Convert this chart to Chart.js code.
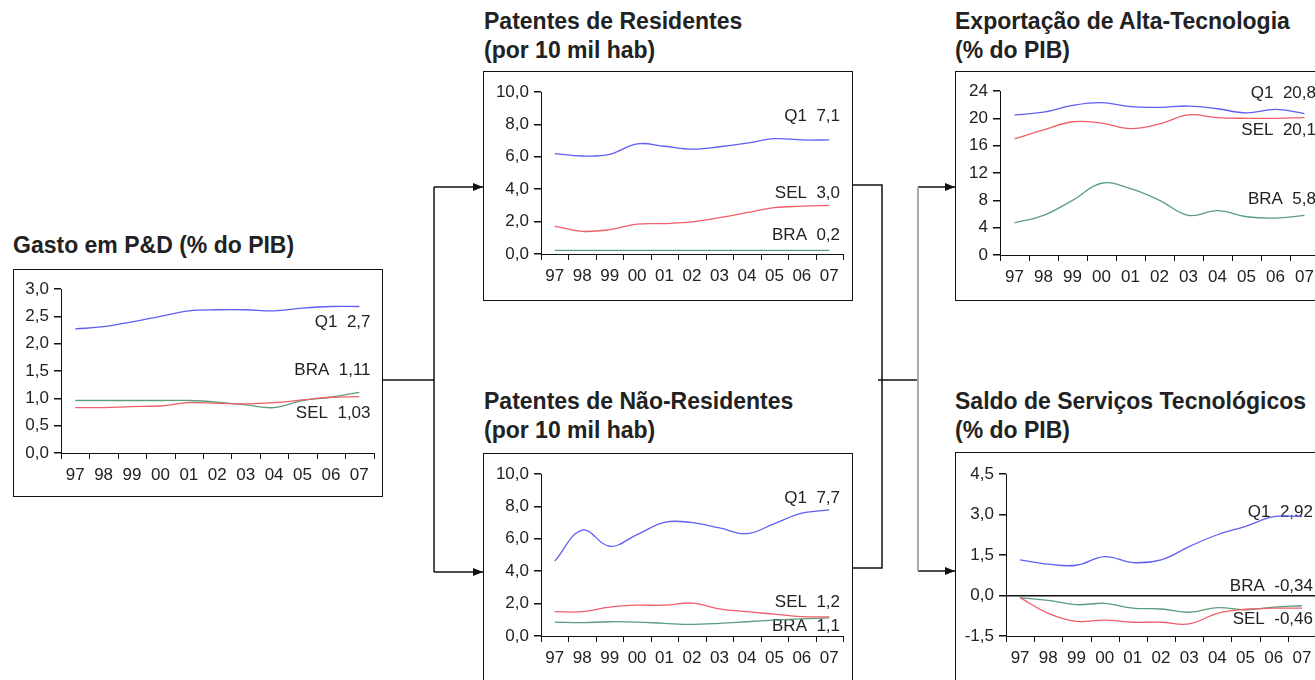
<!DOCTYPE html>
<html lang="pt-br">

<head>
    <meta charset="UTF-8">
    <title>Indicadores de Inovação</title>
    <script src="https://cdn.jsdelivr.net/npm/chart.js"></script>
    <style>
        body {
            margin: 0;
            width: 1315px;
            height: 680px;
            overflow: hidden;
            position: relative;
            background: #fff;
            font-family: "Liberation Sans", Arial, sans-serif;
        }

        .titulo {
            position: absolute;
            font-weight: bold;
            font-size: 23px;
            line-height: 29px;
            color: #222;
            white-space: nowrap;
        }

        .caixa {
            position: absolute;
            border: 1.5px solid #111;
            box-sizing: border-box;
        }

        canvas {
            position: absolute;
        }

        #conectores {
            position: absolute;
            left: 0;
            top: 0;
        }
    </style>
</head>

<body>

    <div class="titulo" style="left: 13px; top: 231px;">Gasto em P&amp;D (% do PIB)</div>
    <div class="titulo" style="left: 484px; top: 7px;">Patentes de Residentes<br>(por 10 mil hab)</div>
    <div class="titulo" style="left: 484px; top: 387px;">Patentes de Não-Residentes<br>(por 10 mil hab)</div>
    <div class="titulo" style="left: 955px; top: 7px;">Exportação de Alta-Tecnologia<br>(% do PIB)</div>
    <div class="titulo" style="left: 955px; top: 387px;">Saldo de Serviços Tecnológicos<br>(% do PIB)</div>

    <svg id="conectores" width="1315" height="680">
        <defs>
            <marker id="seta" markerWidth="10" markerHeight="8" refX="10" refY="4" orient="auto"
                markerUnits="userSpaceOnUse">
                <path d="M0,0 L10,4 L0,8 Z" fill="#111" />
            </marker>
        </defs>
        <g stroke="#111" stroke-width="1.5" fill="none">
            <line x1="383" y1="380" x2="434" y2="380" />
            <line x1="434" y1="187" x2="434" y2="572" />
            <line x1="434" y1="187" x2="483" y2="187" marker-end="url(#seta)" />
            <line x1="434" y1="572" x2="483" y2="572" marker-end="url(#seta)" />
            <polyline points="853,185 882,185 882,568 853,568" />
            <line x1="878" y1="380" x2="918" y2="380" />
            <line x1="918" y1="187" x2="955" y2="187" marker-end="url(#seta)" />
            <line x1="918" y1="571" x2="955" y2="571" marker-end="url(#seta)" />
        </g>
        <line x1="918" y1="187" x2="918" y2="571" stroke="#aaa" stroke-width="2" />
    </svg>

</body>

<script>
    // anos no eixo x
    const anos = ['97', '98', '99', '00', '01', '02', '03', '04', '05', '06', '07'];

    // Gasto em P&D (% do PIB)
    const gastoQ1 = [2.27, 2.31, 2.40, 2.50, 2.60, 2.62, 2.62, 2.60, 2.65, 2.68, 2.68];
    const gastoSEL = [0.83, 0.83, 0.85, 0.86, 0.92, 0.91, 0.90, 0.92, 0.97, 1.02, 1.03];
    const gastoBRA = [0.96, 0.96, 0.96, 0.96, 0.96, 0.93, 0.88, 0.83, 0.96, 1.02, 1.11];

    // Patentes de residentes (por 10 mil hab)
    const residQ1 = [6.2, 6.05, 6.15, 6.8, 6.65, 6.47, 6.62, 6.84, 7.12, 7.04, 7.04];
    const residSEL = [1.72, 1.4, 1.5, 1.84, 1.88, 1.98, 2.24, 2.55, 2.86, 2.95, 3.0];
    const residBRA = [0.22, 0.22, 0.22, 0.22, 0.22, 0.22, 0.22, 0.22, 0.22, 0.22, 0.22];

    // Patentes de não-residentes (por 10 mil hab)
    const naoResidQ1 = [4.62, 6.53, 5.54, 6.26, 7.02, 7.0, 6.67, 6.32, 6.94, 7.58, 7.78];
    const naoResidSEL = [1.5, 1.5, 1.78, 1.9, 1.9, 2.03, 1.68, 1.5, 1.35, 1.2, 1.18];
    const naoResidBRA = [0.86, 0.82, 0.88, 0.86, 0.78, 0.72, 0.78, 0.88, 0.98, 1.06, 1.12];

    // Exportação de alta tecnologia (% do PIB)
    const exportQ1 = [20.5, 20.9, 21.9, 22.3, 21.7, 21.6, 21.8, 21.4, 20.8, 21.3, 20.7];
    const exportSEL = [17.0, 18.3, 19.5, 19.3, 18.5, 19.2, 20.5, 20.1, 20.0, 20.0, 20.1];
    const exportBRA = [4.7, 5.8, 8.0, 10.5, 9.7, 8.0, 5.8, 6.5, 5.6, 5.4, 5.8];

    // Saldo de serviços tecnológicos (% do PIB)
    const saldoQ1 = [1.32, 1.16, 1.12, 1.44, 1.22, 1.32, 1.81, 2.25, 2.56, 2.92, 2.92];
    const saldoSEL = [-0.08, -0.66, -0.96, -0.91, -0.99, -0.99, -1.05, -0.66, -0.51, -0.47, -0.47];
    const saldoBRA = [-0.08, -0.18, -0.34, -0.29, -0.47, -0.5, -0.62, -0.45, -0.53, -0.43, -0.38];

    // textos do fim das linhas e altura (em valor do eixo y) onde ficam
    const rotulosGasto = ['Q1  2,7', 'BRA  1,11', 'SEL  1,03'];
    const alturaRotulosGasto = [2.39, 1.51, 0.72];
    const rotulosResid = ['Q1  7,1', 'SEL  3,0', 'BRA  0,2'];
    const alturaRotulosResid = [8.47, 3.74, 1.17];
    const rotulosNaoResid = ['Q1  7,7', 'SEL  1,2', 'BRA  1,1'];
    const alturaRotulosNaoResid = [8.5, 2.1, 0.6];
    const rotulosExport = ['Q1  20,8', 'SEL  20,1', 'BRA  5,8'];
    const alturaRotulosExport = [23.7, 18.3, 8.1];
    const rotulosSaldo = ['Q1  2,92', 'BRA  -0,34', 'SEL  -0,46'];
    const alturaRotulosSaldo = [3.09, 0.33, -0.87];

    const corQ1 = '#5f5ff2';
    const corSEL = '#ee5f68';
    const corBRA = '#5a9e7e';

    Chart.defaults.font.family = '"Liberation Sans", Arial, sans-serif';
    Chart.defaults.color = '#222';

    // caixas e área de plotagem de cada painel (px na página)
    const paineis = [
        {
            caixa: { l: 13, t: 269, r: 383, b: 497 }, area: { l: 61, r: 376, t: 289, b: 453 },
            min: 0, max: 3, passo: 0.5, casas: 1,
            series: [gastoQ1, gastoSEL, gastoBRA], rotulos: rotulosGasto, alturas: alturaRotulosGasto
        },
        {
            caixa: { l: 483, t: 71, r: 853, b: 301 }, area: { l: 541, r: 846, t: 92, b: 254 },
            min: 0, max: 10, passo: 2, casas: 1,
            series: [residQ1, residSEL, residBRA], rotulos: rotulosResid, alturas: alturaRotulosResid
        },
        {
            caixa: { l: 483, t: 453, r: 853, b: 683 }, area: { l: 541, r: 846, t: 474, b: 636 },
            min: 0, max: 10, passo: 2, casas: 1,
            series: [naoResidQ1, naoResidSEL, naoResidBRA], rotulos: rotulosNaoResid, alturas: alturaRotulosNaoResid
        },
        {
            caixa: { l: 955, t: 71, r: 1330, b: 301 }, area: { l: 1000, r: 1319, t: 91, b: 255 },
            min: 0, max: 24, passo: 4, casas: 0,
            series: [exportQ1, exportSEL, exportBRA], rotulos: rotulosExport, alturas: alturaRotulosExport
        },
        {
            caixa: { l: 955, t: 452, r: 1330, b: 682 }, area: { l: 1006, r: 1316, t: 474, b: 636 },
            min: -1.5, max: 4.5, passo: 1.5, casas: 1, linhaZero: true,
            series: [saldoQ1, saldoSEL, saldoBRA], rotulos: rotulosSaldo, alturas: alturaRotulosSaldo
        }
    ];

    // marcas do eixo x entre os anos e textos do fim das linhas
    const marcasERotulos = {
        id: 'marcasERotulos',
        beforeDatasetsDraw(chart, args, opts) {
            const ctx = chart.ctx;
            const y = chart.scales.y;
            const area = chart.chartArea;
            ctx.save();
            ctx.font = '17px "Liberation Sans", Arial, sans-serif';
            ctx.fillStyle = '#222';
            ctx.textAlign = 'right';
            ctx.textBaseline = 'middle';
            opts.textos.forEach(function (t, k) {
                ctx.fillText(t, area.right - 3, y.getPixelForValue(opts.alturas[k]));
            });
            ctx.restore();
        },
        afterDraw(chart) {
            const ctx = chart.ctx;
            const x = chart.scales.x;
            const area = chart.chartArea;
            ctx.save();
            ctx.strokeStyle = '#111';
            ctx.lineWidth = 1;
            ctx.beginPath();
            for (let i = 0; i <= anos.length; i++) {
                const px = Math.round(x.getPixelForValue(i - 0.5)) + 0.5;
                ctx.moveTo(px, area.bottom);
                ctx.lineTo(px, area.bottom + 6);
            }
            ctx.stroke();
            ctx.restore();
        }
    };

    function criarPainel(p) {
        const caixa = document.createElement('div');
        caixa.className = 'caixa';
        caixa.style.left = p.caixa.l + 'px';
        caixa.style.top = p.caixa.t + 'px';
        caixa.style.width = (p.caixa.r - p.caixa.l) + 'px';
        caixa.style.height = (p.caixa.b - p.caixa.t) + 'px';
        document.body.appendChild(caixa);

        const L = p.caixa.l + 2, T = p.caixa.t + 2;
        const W = p.caixa.r - p.caixa.l - 4, H = p.caixa.b - p.caixa.t - 4;
        const canvas = document.createElement('canvas');
        canvas.width = W;
        canvas.height = H;
        canvas.style.left = L + 'px';
        canvas.style.top = T + 'px';
        canvas.style.width = W + 'px';
        canvas.style.height = H + 'px';
        document.body.appendChild(canvas);

        const larguraY = p.area.l - L;
        const alturaX = T + H - p.area.b;
        const nomes = ['Q1', 'SEL', 'BRA'];
        const cores = [corQ1, corSEL, corBRA];

        const dados = {
            labels: anos,
            datasets: p.series.map(function (s, k) {
                return {
                    label: nomes[k],
                    data: s,
                    borderColor: cores[k],
                    borderWidth: 1.3,
                    pointRadius: 0,
                    tension: 0.4,
                    fill: false
                };
            })
        };

        const config = {
            type: 'line',
            data: dados,
            options: {
                responsive: false,
                animation: false,
                devicePixelRatio: 1,
                layout: {
                    padding: { top: p.area.t - T, right: L + W - p.area.r, left: 0, bottom: 0 }
                },
                plugins: {
                    legend: { display: false },
                    tooltip: { enabled: false },
                    marcasERotulos: { textos: p.rotulos, alturas: p.alturas }
                },
                scales: {
                    x: {
                        type: 'category',
                        offset: true,
                        grid: { display: false, drawTicks: false },
                        border: { display: true, color: '#111', width: 1 },
                        ticks: { font: { size: 17 }, padding: 12, maxRotation: 0, autoSkip: false },
                        afterFit: function (s) { s.height = alturaX; }
                    },
                    y: {
                        min: p.min,
                        max: p.max,
                        ticks: {
                            stepSize: p.passo,
                            font: { size: 17 },
                            padding: 5,
                            callback: function (v) { return Number(v).toFixed(p.casas).replace('.', ','); }
                        },
                        grid: {
                            drawOnChartArea: !!p.linhaZero,
                            tickLength: 7,
                            tickColor: '#111',
                            lineWidth: 1.5,
                            color: function (c) {
                                return (c.tick && Math.abs(c.tick.value) < 1e-9) ? '#111' : 'rgba(0,0,0,0)';
                            }
                        },
                        border: { display: true, color: '#111', width: 1 },
                        afterFit: function (s) { s.width = larguraY; }
                    }
                }
            },
            plugins: [marcasERotulos]
        };

        new Chart(canvas, config);
    }

    paineis.forEach(criarPainel);
</script>

</html>
